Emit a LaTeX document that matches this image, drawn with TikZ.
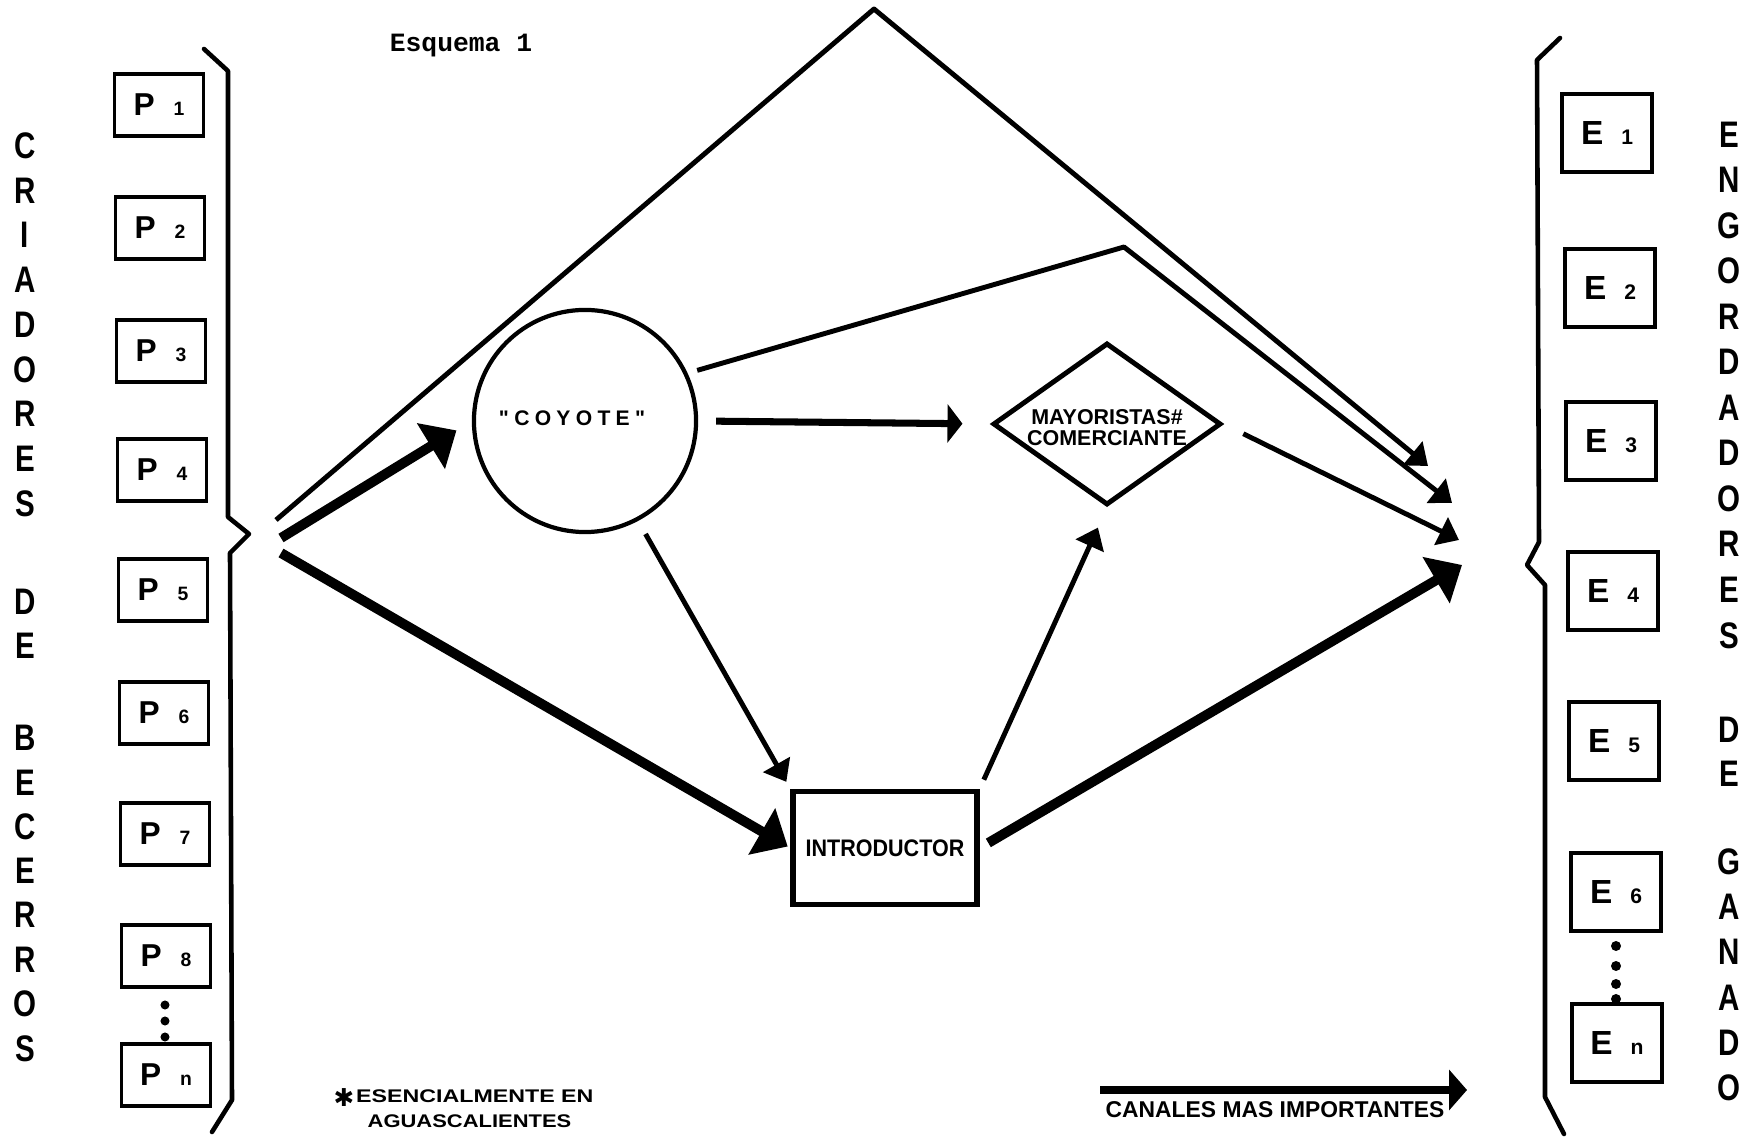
\documentclass[tikz,border=0pt]{standalone}
\usepackage{fontspec}
\setmainfont{Liberation Sans}
\newfontfamily\monob{Liberation Mono}
\newfontfamily\djv{DejaVu Sans}
\newfontfamily\nolig{Liberation Sans}
\usetikzlibrary{arrows.meta,shapes.geometric}
\newcommand\plab[1]{{\fontsize{9}{9}\selectfont P}\hspace{0.19cm}{\fontsize{5.5}{5.5}\selectfont #1}}
\newcommand\elab[1]{{\fontsize{9.5}{9.5}\selectfont E}\hspace{0.18cm}{\fontsize{6}{6}\selectfont #1}}
\newcommand\lsp{\hspace{1.5pt}}
\begin{document}
\begin{tikzpicture}[x=0.01cm,y=-0.01cm,
  pbox/.style={draw,line width=1.1pt,minimum width=0.89cm,minimum height=0.62cm,inner sep=0pt,font=\bfseries},
  ebox/.style={draw,line width=1.3pt,minimum width=0.9cm,minimum height=0.78cm,inner sep=0pt,font=\bfseries},
  sidel/.style={inner sep=0pt,font=\fontsize{10.5}{10.5}\selectfont\bfseries},
  brace/.style={line width=1.3pt,line join=round,line cap=round},
  thinarr/.style={line width=1.4pt,line join=round,-{Triangle[length=0.2cm,width=0.3cm]}},
  thickarr/.style={line width=2.8pt,-{Triangle[length=0.3cm,width=0.52cm]}},
  midarr/.style={line width=2pt,-{Triangle[length=0.15cm,width=0.38cm]}},
  legarr/.style={line width=2.4pt,-{Triangle[length=0.18cm,width=0.4cm]}},
  dotn/.style={circle,fill,inner sep=0pt,minimum size=0.09cm}
]
\useasboundingbox (0,0) rectangle (1757,1137);

% title
\node[font=\monob\bfseries\fontsize{7.5}{7.5}\selectfont] (title) at (461,46) {Esquema 1};

% side letters
\foreach \l/\y [count=\i] in {C/146,R/191,I/235,A/280,D/325,O/370,R/414,E/459,S/504,D/602,E/646,B/738,E/783,C/827,E/871,R/915,R/960,O/1004,S/1049}
  \node[sidel] (cl\i) at (25,\y) {\scalebox{0.8}[1]{\l}};
\foreach \l/\y [count=\i] in {E/135,N/180,G/226,O/271,R/317,D/362,A/408,D/453,O/499,R/544,E/590,S/636,D/730,E/774,G/862,A/907,N/952,A/998,D/1043,O/1088}
  \node[sidel] (cr\i) at (1729,\y) {\scalebox{0.8}[1]{\l}};

% P boxes
\node[pbox] (p1) at (159,105) {\plab{1}};
\node[pbox] (p2) at (160,228) {\plab{2}};
\node[pbox] (p3) at (161,351) {\plab{3}};
\node[pbox] (p4) at (162,470) {\plab{4}};
\node[pbox] (p5) at (163,590) {\plab{5}};
\node[pbox] (p6) at (164,713) {\plab{6}};
\node[pbox] (p7) at (165,834) {\plab{7}};
\node[pbox] (p8) at (166,956) {\plab{8}};
\node[pbox] (pn) at (166,1075) {\plab{n}};
\node[dotn] (pd1) at (165,1005) {};
\node[dotn] (pd2) at (165,1021) {};
\node[dotn] (pd3) at (165,1037) {};

% E boxes
\node[ebox] (e1) at (1607,133) {\elab{1}};
\node[ebox] (e2) at (1610,288) {\elab{2}};
\node[ebox] (e3) at (1611,441) {\elab{3}};
\node[ebox] (e4) at (1613,591) {\elab{4}};
\node[ebox] (e5) at (1614,741) {\elab{5}};
\node[ebox] (e6) at (1616,892) {\elab{6}};
\node[ebox] (en) at (1617,1043) {\elab{n}};
\node[dotn,minimum size=0.1cm] (ed1) at (1616,946) {};
\node[dotn,minimum size=0.1cm] (ed2) at (1616,966) {};
\node[dotn,minimum size=0.1cm] (ed3) at (1616,984) {};
\node[dotn,minimum size=0.1cm] (ed4) at (1616,999) {};

% braces
\coordinate (lt) at (249,534);
\coordinate (rt) at (1527,565);
\draw[brace] (204,49) -- (228,71) -- (228,517) -- (lt) -- (230,553) -- (232,1100) -- (212,1132);
\draw[brace] (1560,38) -- (1537,60) -- (1539,542) -- (rt) -- (1545,585) -- (1545,1097) -- (1564,1134);

% central nodes
\node[draw,circle,line width=1.2pt,minimum size=2.22cm,inner sep=0pt] (coyote) at (585,421) {};
\node[font=\nolig\bfseries\fontsize{6}{6}\selectfont,inner sep=0pt] (coyotetxt) at (572,418) {"\lsp C\lsp O\lsp Y\lsp O\lsp T\lsp E\lsp "};
\node[draw,diamond,line width=1.4pt,minimum width=2.28cm,minimum height=1.62cm,inner sep=0pt] (mayor) at (1107,424) {};
\node[align=center,font=\fontsize{6.1}{6}\selectfont\bfseries,inner sep=0pt] (mayortxt) at (1107,428) {MAYORISTAS\#\\COMERCIANTE};
\node[draw,line width=1.5pt,minimum width=1.84cm,minimum height=1.13cm,inner sep=0pt,font=\fontsize{6.8}{6.8}\selectfont\bfseries] (intro) at (885,848) {\scalebox{0.9}[1]{INTRODUCTOR}};

% free ends
\coordinate (sA) at (276,520);
\coordinate (sB) at (281,538);
\coordinate (sC) at (281,553);
\coordinate (apex) at (874,9);
\coordinate (bend) at (1124,247);
\coordinate (tA) at (1428,466);
\coordinate (tD) at (1452,503);
\coordinate (tE) at (1459,540);
\coordinate (tF) at (1462,565);

% connectors
\draw[thinarr] (sA) -- (apex) -- (tA);
\draw[thinarr,shorten <=0.1cm] (coyote.25) -- (bend) -- (tD);
\draw[thinarr,shorten <=0.22cm] (mayor.east) -- (tE);
\draw[thickarr,shorten >=0.18cm] (sB) -- (coyote.west);
\draw[thickarr,shorten >=0.03cm] (sC) -- (intro.west);
\draw[midarr,shorten <=0.18cm,shorten >=0.28cm] (coyote.east) -- (mayor.west);
\draw[thinarr,shorten <=0.15cm,shorten >=0.08cm] (coyote.-62) -- (intro.north west);
\draw[thinarr,shorten <=0.1cm,shorten >=0.22cm] (intro.north east) -- (mayor.south);
\draw[thickarr,shorten <=0.1cm] (intro.east) -- (tF);

% legend
\coordinate (lg1) at (1100,1090);
\coordinate (lg2) at (1467,1090);
\draw[legarr] (lg1) -- (lg2);
\node[anchor=west,font=\fontsize{6.5}{6.5}\selectfont\bfseries,inner sep=0pt] (legtxt) at (1105,1110) {CANALES MAS IMPORTANTES};
\node[anchor=west,inner sep=0pt] (note1) at (333,1098) {\raisebox{-1.2pt}{\djv\bfseries\fontsize{7}{7}\selectfont ✱}\hspace{0.5pt}\scalebox{1.27}[1]{\fontsize{5.2}{5.2}\selectfont\bfseries ESENCIALMENTE EN}};
\node[anchor=west,inner sep=0pt] (note2) at (367,1121) {\scalebox{1.2}[1]{\fontsize{5.2}{5.2}\selectfont\bfseries AGUASCALIENTES}};
\end{tikzpicture}
\end{document}
